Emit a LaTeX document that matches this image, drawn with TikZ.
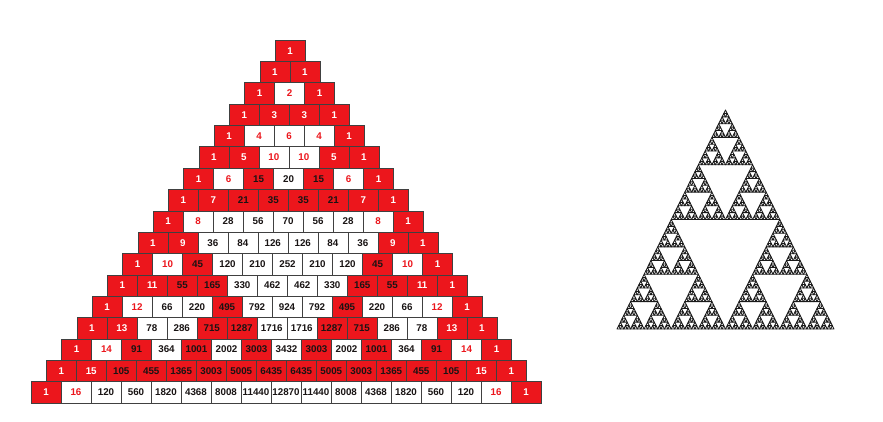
\documentclass[tikz,border=0pt]{standalone}
\usepackage{fontspec}
\newfontfamily\cellfont{Liberation Sans}
\definecolor{pasred}{RGB}{236,22,28}
\definecolor{celltxt}{RGB}{25,20,20}
\tikzset{
  cellbox/.style={rectangle, minimum width=30pt, minimum height=21.35pt, inner sep=0pt,
    draw=black!75, line width=0.5pt, font=\cellfont\bfseries\fontsize{9.8}{11}\selectfont},
  sierline/.style={draw=black!90, line width=0.85pt, line join=round}
}
\newcommand\sierp[1]{%
  \ifnum#1=0
    \draw[sierline] (0,0) -- (1,0) -- (0.5,1) -- cycle;
  \else
    \begin{scope}[scale=0.5]\sierp{\numexpr#1-1\relax}\end{scope}%
    \begin{scope}[shift={(0.5,0)},scale=0.5]\sierp{\numexpr#1-1\relax}\end{scope}%
    \begin{scope}[shift={(0.25,0.5)},scale=0.5]\sierp{\numexpr#1-1\relax}\end{scope}%
  \fi}
\begin{document}
\begin{tikzpicture}[x=1pt,y=-1pt]
\useasboundingbox[fill=white] (0,0) rectangle (883,422);
% Pascal's triangle
\foreach \n in {0,...,16}{
  \xdef\binc{1}
  \foreach \k in {0,...,\n}{
    \ifnum\k>0 \xdef\binc{\the\numexpr\binc*(\n-\k+1)/\k\relax}\fi
    \pgfmathtruncatemacro\mk{min(\k,\n-\k)}
    \ifodd\binc
      \def\fillc{pasred}\def\hic{white}
    \else
      \def\fillc{white}\def\hic{pasred}
    \fi
    \ifnum\mk<2 \def\txtc{\hic}\else
      \ifnum\n<6 \def\txtc{\hic}\else\def\txtc{celltxt}\fi
    \fi
    \pgfmathsetmacro\cx{290-0.25*\n+(\k-\n/2)*30}
    \pgfmathsetmacro\cy{40+(\n+0.5)*21.35}
    \node[cellbox, fill=\fillc, text=\txtc] (c-\n-\k) at (\cx,\cy) {\binc};
  }
}
% Sierpinski triangle
\begin{scope}[shift={(617,329)}, xscale=217, yscale=-219]
  \sierp{6}
\end{scope}
\end{tikzpicture}
\end{document}
